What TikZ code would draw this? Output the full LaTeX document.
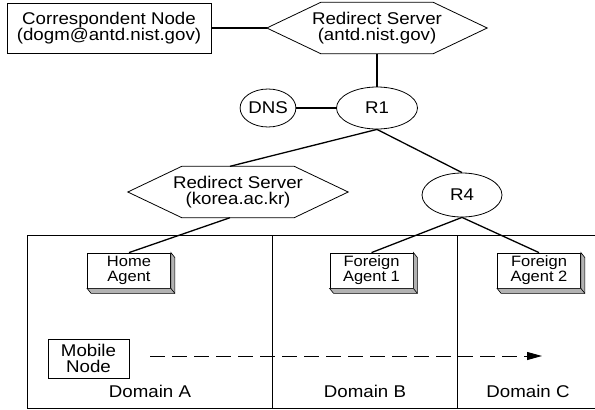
\documentclass[tikz,border=0pt]{standalone}
\usepackage{fontspec}
\setmainfont[FakeStretch=1.1]{Liberation Sans}
\usetikzlibrary{arrows.meta,shapes.geometric}

\tikzset{
  link/.style={line width=1.3pt},
  plainbox/.style={draw,line width=0.8pt,fill=white,inner sep=0pt,align=center,
    font=\fontsize{17}{16.5}\selectfont},
  agentbox/.style={draw,line width=0.8pt,fill=white,inner sep=0pt,align=center,
    minimum width=83pt,minimum height=35pt,font=\fontsize{15}{15}\selectfont},
  router/.style={ellipse,draw,line width=0.8pt,inner sep=0pt,
    font=\fontsize{17}{16.5}\selectfont},
  hexbox/.style={inner sep=0pt,align=center,minimum width=220pt,minimum height=51pt,
    font=\fontsize{17}{16.5}\selectfont},
  domlabel/.style={font=\fontsize{17}{16.5}\selectfont}
}

\begin{document}
\begin{tikzpicture}[x=1pt,y=-1pt]
  \useasboundingbox (0,0) rectangle (595,410);

  % domains
  \draw[line width=0.8pt] (595,235) -- (27,235) -- (27,408) -- (595,408);
  \draw[line width=0.8pt] (272,235) -- (272,408);
  \draw[line width=0.8pt] (457,235) -- (457,408);

  % servers and routers
  \node[plainbox,minimum width=204pt,minimum height=50pt] (cn) at (109,28)
    {Correspondent Node\\(dogm@antd.nist.gov)};
  \node[hexbox] (rsa) at (377,28) {Redirect Server\\(antd.nist.gov)};
  \node[hexbox] (rsk) at (238,192) {Redirect Server\\(korea.ac.kr)};
  \foreach \n in {rsa,rsk}
    \draw[line width=0.8pt] (\n.west) -- ([xshift=54pt]\n.north west)
      -- ([xshift=-54pt]\n.north east) -- (\n.east)
      -- ([xshift=-54pt]\n.south east) -- ([xshift=54pt]\n.south west) -- cycle;
  \node[router,minimum width=81pt,minimum height=42pt] (r1) at (377,108) {R1};
  \node[router,minimum width=54pt,minimum height=38pt] (dns) at (268,108) {DNS};
  \node[router,minimum width=80pt,minimum height=44pt] (r4) at (462,195) {R4};

  % agents
  \node[agentbox] (ha) at (129,270.5) {Home\\Agent};
  \node[agentbox] (fa1) at (371.5,270.5) {Foreign\\Agent 1};
  \node[agentbox] (fa2) at (539,270.5) {Foreign\\Agent 2};
  \foreach \n in {ha,fa1,fa2} {
    \filldraw[fill=black!30,line width=0.6pt] (\n.north east)
      -- ([shift={(4pt,-5pt)}]\n.north east) -- ([shift={(4pt,-5pt)}]\n.south east)
      -- ([shift={(4pt,-5pt)}]\n.south west) -- (\n.south west) -- (\n.south east) -- cycle;
    \draw[line width=0.6pt] (\n.south east) -- ([shift={(4pt,-5pt)}]\n.south east);
  }

  \node[plainbox,minimum width=81pt,minimum height=39pt] (mn) at (88.5,358.5)
    {Mobile\\Node};

  % links
  \draw[link] (cn) -- (rsa);
  \draw[link] (rsa) -- (r1);
  \draw[link] (dns) -- (r1);
  \draw[link] (r1.south) -- ([xshift=-8pt]rsk.north);
  \draw[link] (r1.south) -- (r4.north);
  \draw[link] ([xshift=-8pt]rsk.south) -- (ha.north);
  \draw[link] (r4.south) -- (fa1.north);
  \draw[link] (r4.south) -- (fa2.north);

  % movement of the mobile node
  \coordinate (mvstart) at (150,356);
  \coordinate (mvend) at (542,356);
  \draw[line width=1pt,dash pattern=on 15pt off 7pt,-{Triangle[length=15pt,width=8pt]}]
    (mvstart) -- (mvend);

  \node[domlabel] (da) at (150,391) {Domain A};
  \node[domlabel] (db) at (365,391) {Domain B};
  \node[domlabel] (dc) at (528,391) {Domain C};
\end{tikzpicture}
\end{document}
